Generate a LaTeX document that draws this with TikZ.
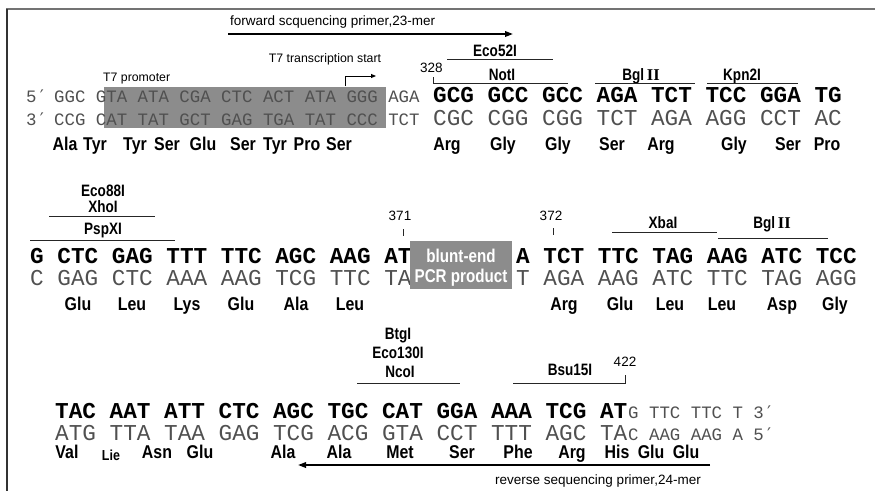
\documentclass[tikz,border=0pt]{standalone}
\usepackage{fontspec}
\setmainfont{Liberation Sans}
\newfontfamily\mono{Liberation Mono}
\newfontfamily\primefont{DejaVu Sans Mono}
\newfontfamily\nar[FakeStretch=0.82]{Liberation Sans}
\newfontfamily\narw[FakeStretch=0.86]{Liberation Sans}
\newfontfamily\ser{Liberation Serif}
\usetikzlibrary{arrows.meta}
\definecolor{boxgray}{RGB}{140,140,140}
\definecolor{seqgray}{RGB}{80,80,80}
\newcommand{\pr}{{\primefont ′}}
\frenchspacing
\begin{document}
\begin{tikzpicture}[x=1pt,y=-1pt,
  seqS/.style={font=\mono\fontsize{17.4}{20}\selectfont, inner sep=0pt, anchor=base west, text=seqgray},
  seqL/.style={font=\mono\fontsize{22.7}{26}\selectfont, inner sep=0pt, anchor=base west, text=seqgray},
  seqB/.style={font=\mono\bfseries\fontsize{22.7}{26}\selectfont, inner sep=0pt, anchor=base west, text=black},
  aa/.style={font=\narw\bfseries\fontsize{18.5}{21}\selectfont, inner sep=0pt, anchor=base},
  enz/.style={font=\nar\bfseries\fontsize{16.5}{19}\selectfont, inner sep=0pt, anchor=base},
  note/.style={font=\fontsize{13.5}{16}\selectfont, inner sep=0pt, anchor=base},
  site/.style={line width=0.9pt, draw=black!85},
  tick/.style={line width=0.9pt, draw=black!85},
  primer/.style={line width=1.8pt, -{Triangle[length=8pt,width=5.5pt]}},
  shade/.style={fill=boxgray, draw=none}]
\useasboundingbox (0,0) rectangle (875,491);
% frame
\draw[line width=1.6pt, draw=black!55] (6,9) -- (875,9);
\draw[line width=1.4pt, draw=black!80] (7,9) -- (7,491);

% ---------------- row 1 ----------------
\fill[shade] (104,87) rectangle (386,128);
\node[seqS] (p5a) at (26,102) {5\pr};
\node[seqS] (p3a) at (26,125) {3\pr};
\node[seqS] (t1s) at (54,102) {GGC GTA ATA CGA CTC ACT ATA GGG AGA};
\node[seqS] (b1s) at (54,125) {CCG CAT TAT GCT GAG TGA TAT CCC TCT};
\node[seqB] (t1l) at (433,102) {GCG GCC GCC AGA TCT TCC GGA TG};
\node[seqL] (b1l) at (433,125) {CGC CGG CGG TCT AGA AGG CCT AC};
\foreach \t/\x [count=\i] in {Ala/65,Tyr/95,Tyr/135,Ser/167,Glu/203,Ser/243,Tyr/275,Pro/307,Ser/339,Arg/447,Gly/503,Gly/558,Ser/612,Arg/661,Gly/734,Ser/788,Pro/827}
  \node[aa] (aa1-\i) at (\x,150) {\t};

\node[note, anchor=base west] (fwd) at (230,25) {forward scquencing primer,23-mer};
\coordinate (fwdS) at (228,34);
\coordinate (fwdE) at (513,34);
\draw[primer] (fwdS) -- (fwdE);
\node[note, font=\fontsize{12.3}{15}\selectfont] (t7s) at (325,62) {T7 transcription start};
\coordinate (tsA) at (345,86);
\coordinate (tsB) at (376,76);
\draw[line width=0.9pt, -{Triangle[length=5pt,width=4pt]}] (tsA) |- (tsB);
\node[note, anchor=base west, font=\fontsize{12.3}{15}\selectfont] (t7p) at (103,81) {T7 promoter};
\node[note, anchor=base west] (n328) at (420,72) {328};
\draw[tick] (433,77) |- (568,83);
\node[enz] (eco52) at (495,56) {Eco52I};
\draw[site] (447,59) -- (553,59);
\node[enz] (noti) at (502,80) {NotI};
\node[enz] (bgl1) at (641,80) {Bgl\,{\ser\bfseries II}};
\draw[site] (595,83) -- (695,83);
\node[enz] (kpn) at (742,80) {Kpn2I};
\draw[site] (707,83) -- (798,83);

% ---------------- row 2 ----------------
\node[enz] (eco88) at (103,196) {Eco88I};
\node[enz] (xho) at (103,212) {XhoI};
\draw[site] (49,216) -- (155,216);
\node[enz] (psp) at (103,234) {PspXI};
\draw[site] (30,240) -- (175,240);
\node[seqB] (t2l) at (30,263) {G CTC GAG TTT TTC AGC AAG AT};
\node[seqL] (b2l) at (30,285) {C GAG CTC AAA AAG TCG TTC TA};
\fill[shade] (410,241) rectangle (512,289);
\node[enz, text=white, font=\nar\bfseries\fontsize{18.5}{21}\selectfont] (blunt1) at (461,262) {blunt-end};
\node[enz, text=white, font=\nar\bfseries\fontsize{18.5}{21}\selectfont] (blunt2) at (461,282) {PCR product};
\node[note] (n371) at (400,220) {371};
\draw[tick] (403,229) -- (403,236);
\node[note] (n372) at (551,220) {372};
\draw[tick] (553,228) -- (553,235);
\node[seqB] (t2r) at (516,263) {A TCT TTC TAG AAG ATC TCC};
\node[seqL] (b2r) at (516,285) {T AGA AAG ATC TTC TAG AGG};
\node[enz] (xba) at (663,228) {XbaI};
\draw[site] (612,232) -- (717,232);
\node[enz] (bgl2) at (772,228) {Bgl\,{\ser\bfseries II}};
\draw[site] (718,238) -- (828,238);
\foreach \t/\x [count=\i] in {Glu/78,Leu/132,Lys/187,Glu/241,Ala/296,Leu/350,Arg/564,Glu/620,Leu/670,Leu/722,Asp/782,Gly/835}
  \node[aa] (aa2-\i) at (\x,310) {\t};

% ---------------- row 3 ----------------
\node[enz] (btg) at (398,339) {BtgI};
\node[enz] (eco130) at (398,358) {Eco130I};
\node[enz] (nco) at (400,377) {NcoI};
\draw[site] (357,383) -- (460,383);
\node[enz] (bsu) at (570,375) {Bsu15I};
\draw[tick] (513,383) -| (625,375);
\node[note] (n422) at (625,366) {422};
\node[seqB] (t3l) at (55,418) {TAC AAT ATT CTC AGC TGC CAT GGA AAA TCG AT};
\node[seqS] (t3s) at (628,418) {G TTC TTC T 3\pr};
\node[seqL] (b3l) at (55,440) {ATG TTA TAA GAG TCG ACG GTA CCT TTT AGC TA};
\node[seqS] (b3s) at (628,440) {C AAG AAG A 5\pr};
\foreach \t/\x [count=\i] in {Val/67,Asn/157,Glu/200,Ala/283,Ala/339,Met/400,Ser/462,Phe/518,Arg/572,His/617,Glu/651,Glu/686}
  \node[aa] (aa3-\i) at (\x,458) {\t};
\node[aa, font=\narw\bfseries\fontsize{14.5}{17}\selectfont] (lie) at (111,460) {Lie};
\coordinate (revS) at (710,465);
\coordinate (revE) at (298,465);
\draw[primer] (revS) -- (revE);
\node[note, anchor=base west] (rev) at (495,484) {reverse sequencing primer,24-mer};
\end{tikzpicture}
\end{document}
